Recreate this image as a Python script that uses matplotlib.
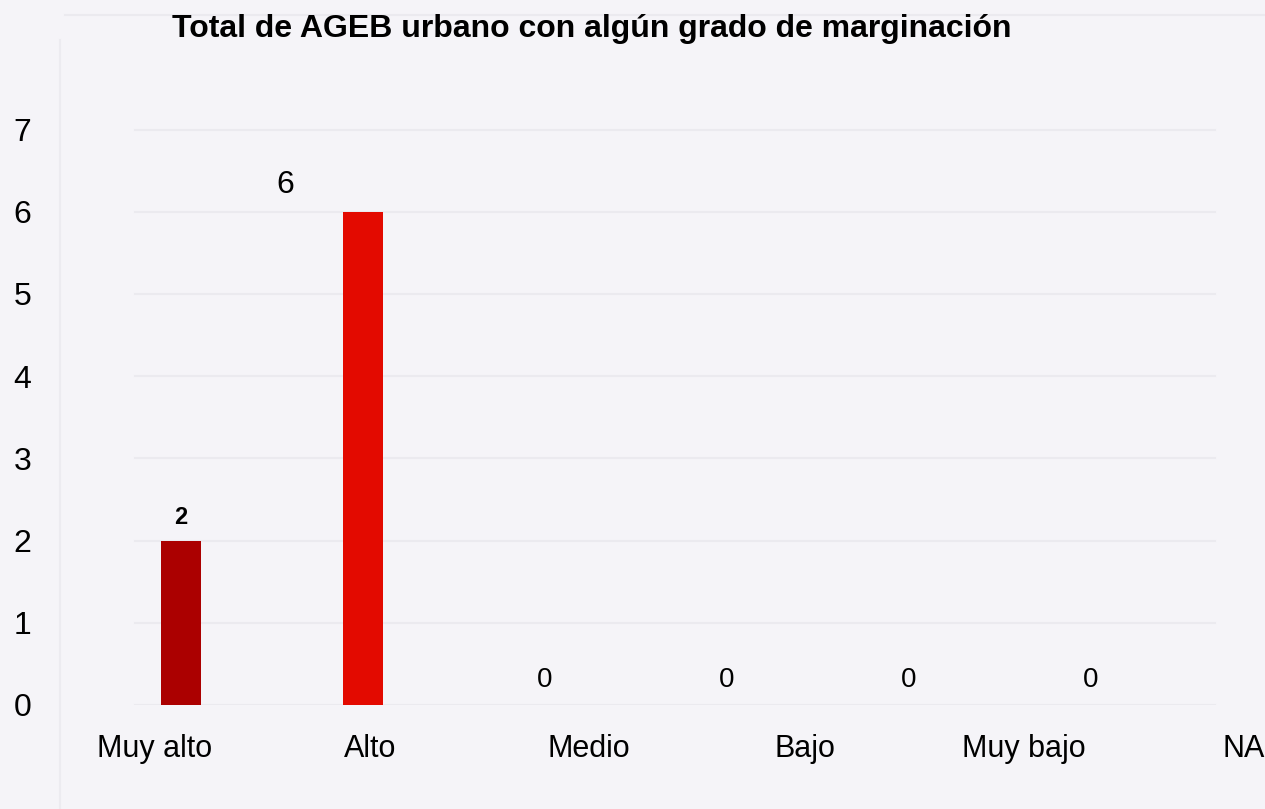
import matplotlib.pyplot as plt
import numpy as np
from matplotlib.lines import Line2D

categorias = ["Muy alto", "Alto", "Medio", "Bajo", "Muy bajo", "NA"]
valores = [2, 6, 0, 0, 0, 0]
colores = ["#ab0000", "#e30a00", "#e30a00", "#e30a00", "#e30a00", "#e30a00"]
yticks = [0, 1, 2, 3, 4, 5, 6, 7]
titulo = "Total de AGEB urbano con algún grado de marginación"

plt.rcParams["font.family"] = ["Liberation Sans", "DejaVu Sans"]
bg = "#f5f4f8"

W, H = 1265, 809
fig = plt.figure(figsize=(W / 100, H / 100), dpi=100, facecolor=bg)
# axes box in pixels: left 65, right 1265, top 100, bottom 705
ax = fig.add_axes([65 / W, 1 - 705 / H, 1200 / W, 605 / H], facecolor=bg)

x = np.arange(len(categorias))
ax.set_xlim(-0.637, 5.956)
ax.set_ylim(0, 7.36)

# faint grid
for yv in yticks:
    ax.plot([-0.25, 5.68], [yv, yv], color="#ebeaef", lw=1.5, zorder=0)

ax.bar(x, valores, width=0.22, color=colores, zorder=2)

# value labels
ax.annotate(str(valores[0]), (x[0], valores[0]), xytext=(0, 12), textcoords="offset pixels",
            ha="center", va="bottom", fontsize=17, fontweight="bold")
ax.annotate(str(valores[1]), (x[1], valores[1]), xytext=(-78, 12), textcoords="offset pixels",
            ha="center", va="bottom", fontsize=23)
for i in range(2, len(valores)):
    ax.annotate(str(valores[i]), (x[i], valores[i]), xytext=(0, 25), textcoords="offset pixels",
                ha="center", va="center", fontsize=20)

# category labels (offset from bar centres as in the original)
label_shift = [-0.143, 0.04, 0.24, 0.43, 0.63, 0.84]
ax.set_xticks(x + np.array(label_shift))
ax.set_xticklabels(categorias, fontsize=22)
ax.tick_params(axis="x", length=0, pad=21)

ax.set_yticks(yticks)
ax.set_yticklabels([str(v) for v in yticks], fontsize=23)
ax.tick_params(axis="y", length=0, pad=0)
for lbl in ax.get_yticklabels():
    lbl.set_horizontalalignment("left")
    lbl.set_transform(ax.get_yaxis_transform())
    lbl.set_position((-0.043, lbl.get_position()[1]))

for s in ax.spines.values():
    s.set_visible(False)

fig.text(172 / W, 1 - 29 / H, titulo, fontsize=23, fontweight="bold", ha="left", va="center")

# faint frame lines of the chart area
fig.add_artist(Line2D([65 / W, 1], [1 - 15 / H, 1 - 15 / H], color="#ebeaef", lw=1.5))
fig.add_artist(Line2D([60 / W, 60 / W], [0, 1 - 40 / H], color="#ecebf0", lw=1.5))

plt.savefig("out.png", dpi=100, facecolor=bg)
